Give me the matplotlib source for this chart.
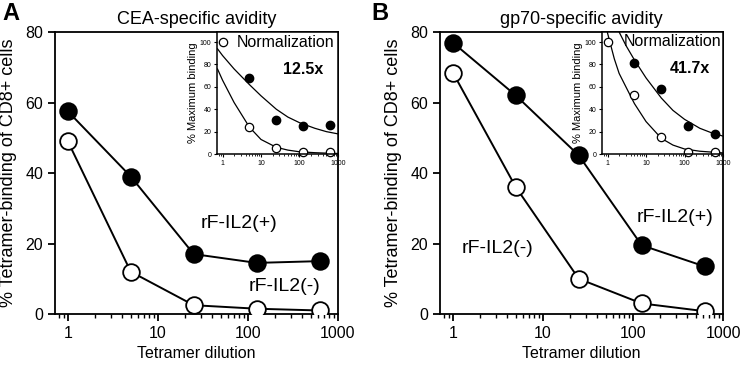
import matplotlib.pyplot as plt
from matplotlib.ticker import LogLocator, NullFormatter, FixedLocator

plt.rcParams['font.family'] = ['Liberation Sans', 'DejaVu Sans']

# tetramer dilutions
dilution = [1, 5, 25, 125, 625]

# panel A: CEA-specific avidity
cea_plus = [57.5, 39, 17, 14.5, 15]
cea_minus = [49, 12, 2.5, 1.5, 1]
cea_norm_plus = [None, 68, 30, 25, 26]
cea_norm_minus = [100, 24, 5, 2, 2]
# fit curves
cea_fit_x = [0.74, 1, 2, 5, 10, 25, 50, 100, 250, 500, 1000]
cea_fit_plus = [94, 88, 76, 62, 52, 40, 33, 28, 23, 20, 18]
cea_fit_minus = [76, 66, 46, 24, 13, 6, 3.5, 2, 1.2, 0.8, 0.5]

# panel B: gp70-specific avidity
gp_plus = [77, 62, 45, 19.5, 13.5]
gp_minus = [68.5, 36, 10, 3, 0.8]
gp_norm_plus = [None, 81, 58, 25, 18]
gp_norm_minus = [100, 53, 15, 2, 2]
gp_fit_x = [1.5, 2, 3, 5, 10, 25, 50, 100, 250, 500, 1000]
gp_fit_plus = [122, 109, 97, 84, 68, 50, 39, 31, 23, 19, 16]
gp_fit_x2 = [0.9, 1, 1.5, 2, 3, 5, 10, 25, 50, 100, 250, 1000]
gp_fit_minus = [120, 108, 85, 72, 60, 45, 29, 14, 8, 4.5, 2.5, 1]

panels = [
    ('A', 'CEA-specific avidity', cea_plus, cea_minus, cea_norm_plus, cea_norm_minus,
     cea_fit_x, cea_fit_plus, cea_fit_x, cea_fit_minus, '12.5x',
     [(79, 25.8, 'rF-IL2(+)'), (257, 7.7, 'rF-IL2(-)')], 0.0741, 0.003,
     (0.57, 0.91), (0.71, 0.69)),
    ('B', 'gp70-specific avidity', gp_plus, gp_minus, gp_norm_plus, gp_norm_minus,
     gp_fit_x, gp_fit_plus, gp_fit_x2, gp_fit_minus, '41.7x',
     [(293, 27.5, 'rF-IL2(+)'), (3.16, 18.7, 'rF-IL2(-)')], 0.593, 0.5,
     (0.585, 0.92), (0.73, 0.7)),
]

fig = plt.figure(figsize=(7.42, 3.65), dpi=100)

for (letter, title, yp, ym, np_, nm, fx1, fp, fx2, fm, fold, labels, left, lx0,
     npos, fpos) in panels:
    ax = fig.add_axes([left, 0.1397, 0.3814, 0.7726])
    ax.plot(dilution, ym, '-o', color='black', mfc='white', mec='black',
            ms=12, mew=1.3, lw=1.4, zorder=3)
    ax.plot(dilution, yp, '-o', color='black', mfc='black', mec='black',
            ms=12, mew=1.3, lw=1.4, zorder=3)
    ax.set_xscale('log')
    ax.set_xlim(0.72, 1000)
    ax.set_ylim(0, 80)
    ax.set_yticks([0, 20, 40, 60, 80])
    ax.xaxis.set_major_locator(FixedLocator([1, 10, 100, 1000]))
    ax.set_xticklabels(['1', '10', '100', '1000'])
    ax.xaxis.set_minor_locator(LogLocator(base=10, subs=range(2, 10)))
    ax.xaxis.set_minor_formatter(NullFormatter())
    ax.tick_params(axis='both', which='major', labelsize=11.5, length=5, width=1.3)
    ax.tick_params(axis='x', which='minor', length=3, width=1)
    for s in ax.spines.values():
        s.set_linewidth(1.3)
    ax.set_xlabel('Tetramer dilution', fontsize=11.5, labelpad=4)
    ax.set_ylabel('% Tetramer-binding of CD8+ cells', fontsize=13, labelpad=6)
    ax.set_title(title, fontsize=13, pad=6)
    fig.text(lx0, 0.995, letter, fontsize=17, fontweight='bold', va='top')
    for (lx, ly, txt) in labels:
        ax.text(lx, ly, txt, fontsize=14, ha='center', va='center')

    ins = fig.add_axes([left + 0.2184, 0.578, 0.163, 0.3343])
    ins.plot(fx1, fp, color='black', lw=0.9)
    ins.plot(fx2, fm, color='black', lw=0.9)
    xs_p = [d for d, v in zip(dilution, np_) if v is not None]
    vs_p = [v for v in np_ if v is not None]
    ins.plot(xs_p, vs_p, 'o', mfc='black', mec='black', ms=6, clip_on=False)
    ins.plot(dilution, nm, 'o', mfc='white', mec='black', ms=6, mew=0.9, clip_on=False)
    ins.set_xscale('log')
    ins.set_xlim(0.72, 1000)
    ins.set_ylim(0, 109)
    ins.set_yticks([0, 20, 40, 60, 80, 100])
    ins.xaxis.set_major_locator(FixedLocator([1, 10, 100, 1000]))
    ins.set_xticklabels(['1', '10', '100', '1000'])
    ins.xaxis.set_minor_locator(LogLocator(base=10, subs=range(2, 10)))
    ins.xaxis.set_minor_formatter(NullFormatter())
    ins.tick_params(axis='both', which='major', labelsize=5, length=2.5, width=0.8, pad=1.5)
    ins.tick_params(axis='x', which='minor', length=1.5, width=0.6)
    for s in ins.spines.values():
        s.set_linewidth(1.1)
    ins.set_ylabel('% Maximum binding', fontsize=8, labelpad=1)
    ins.text(npos[0], npos[1], 'Normalization', transform=ins.transAxes, fontsize=11.5,
             ha='center', va='center')
    ins.text(fpos[0], fpos[1], fold, transform=ins.transAxes, fontsize=11.5,
             fontweight='bold', ha='center', va='center')

fig.savefig('out.png', dpi=100)
